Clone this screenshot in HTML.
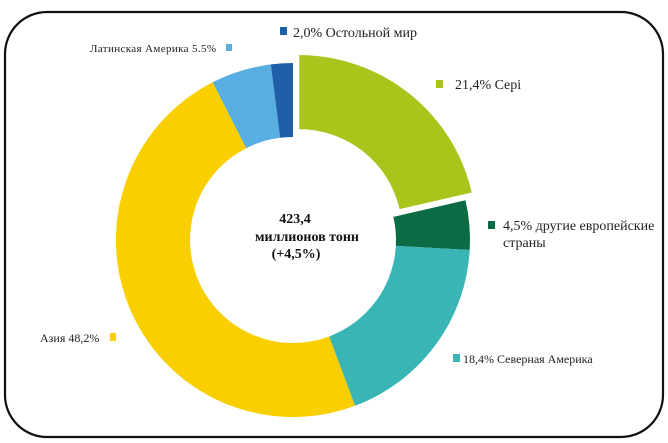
<!DOCTYPE html>
<html><head><meta charset="utf-8"><style>
html,body{margin:0;padding:0;background:#fff;}
svg{display:block;font-family:"Liberation Serif",serif;}
</style></head><body>
<svg id="s" width="668" height="443" viewBox="0 0 668 443">
<rect x="5" y="12" width="658" height="425" rx="42" ry="42" fill="#fff" stroke="#111" stroke-width="2.2"/>
<g id="d"></g>
<g font-size="14" fill="#222">
<rect x="280" y="27" width="7" height="8" fill="#1f5fa8"/>
<text x="293" y="37">2,0% Остольной мир</text>
<text x="90" y="52" font-size="11" textLength="126">Латинская Америка 5.5%</text>
<rect x="226" y="44" width="6" height="7" fill="#58aee0"/>
<rect x="436" y="80" width="7" height="8" fill="#a8c51c"/>
<text x="455" y="89">21,4% Cepi</text>
<rect x="488" y="221" width="7" height="8" fill="#0a6b45"/>
<text x="503" y="230">4,5% другие европейские</text>
<text x="503" y="247">страны</text>
<rect x="453" y="354" width="7" height="8" fill="#3ab5b5"/>
<text x="463" y="363" font-size="12">18,4% Северная Америка</text>
<text x="40" y="342" font-size="12">Азия 48,2%</text>
<rect x="110" y="333" width="6" height="8" fill="#f9cf00"/>
</g>
<g font-weight="bold" fill="#111" font-size="14" text-anchor="middle">
<text x="295" y="223">423,4</text>
<text x="307" y="241">миллионов тонн</text>
<text x="296" y="258">(+4,5%)</text>
</g>
</svg>
<script>
var cx=293,cy=240,R=177,r=103;
var segs=[[21.4,"#a8c51c",10],[4.5,"#0a6b45",0],[18.4,"#3ab5b5",0],[48.2,"#f9cf00",0],[5.5,"#58aee0",0],[2.0,"#1f5fa8",0]];
var a=0,h="";
function pt(rad,ang,ox,oy){var t=(ang-90)*Math.PI/180;return (cx+ox+rad*Math.cos(t)).toFixed(2)+","+(cy+oy+rad*Math.sin(t)).toFixed(2);}
segs.forEach(function(s){
 var a0=a,a1=a+s[0]*3.6;a=a1;
 var m=((a0+a1)/2-90)*Math.PI/180,ox=s[2]*Math.cos(m),oy=s[2]*Math.sin(m);
 var lg=(a1-a0)>180?1:0;
 h+='<path fill="'+s[1]+'" d="M'+pt(R,a0,ox,oy)+' A'+R+','+R+' 0 '+lg+' 1 '+pt(R,a1,ox,oy)+' L'+pt(r,a1,ox,oy)+' A'+r+','+r+' 0 '+lg+' 0 '+pt(r,a0,ox,oy)+' Z"/>';
});
document.getElementById("d").innerHTML=h;
</script>
</body></html>
